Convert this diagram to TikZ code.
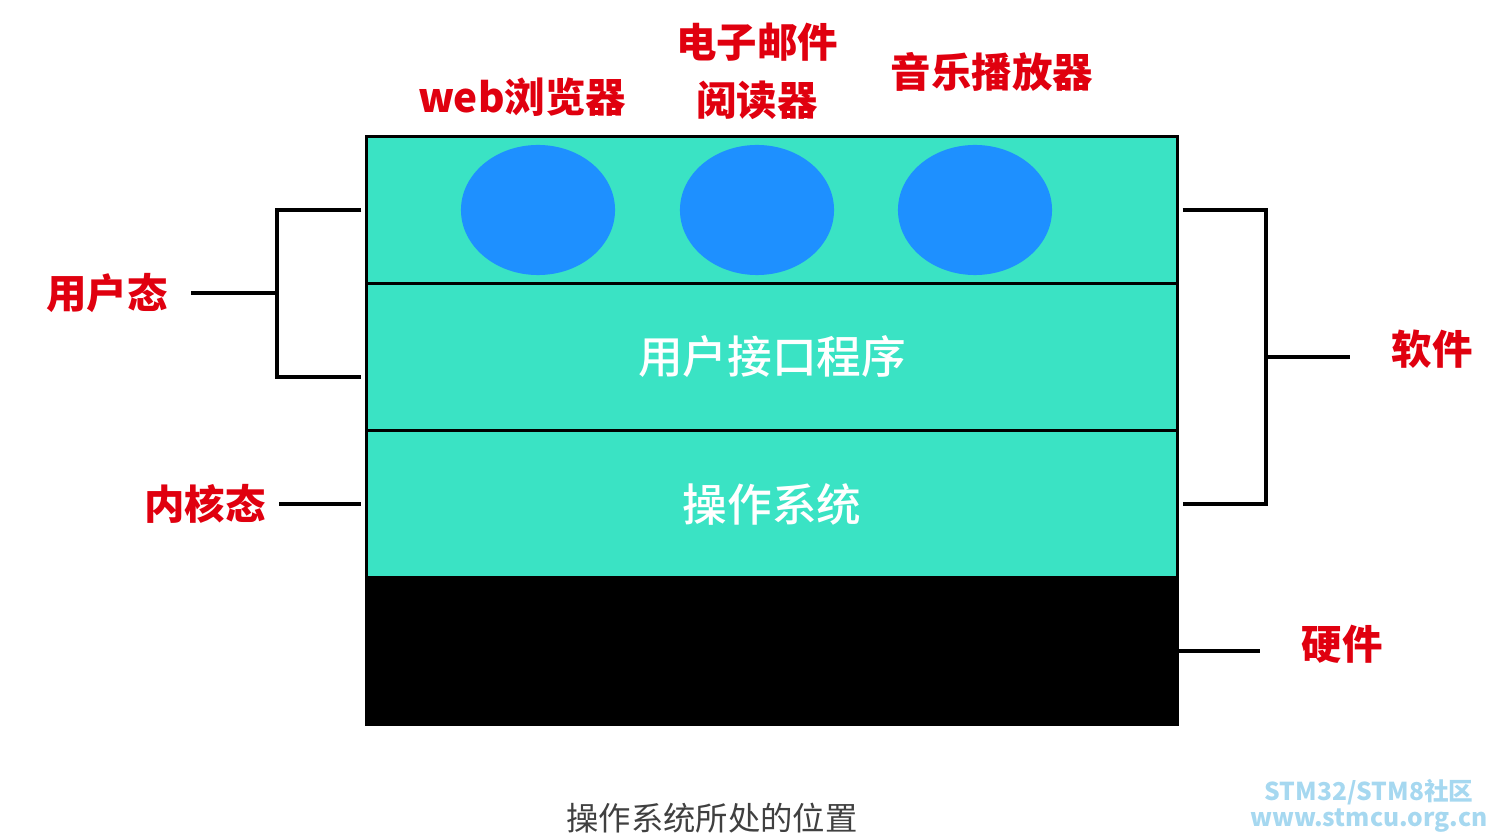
\documentclass[tikz,border=0pt]{standalone}
\usepackage{fontspec}
\newfontfamily\cjk{Noto Sans CJK SC}
\newfontfamily\cjkmed{Noto Sans CJK SC Medium}
\usetikzlibrary{shapes.geometric,calc}

\definecolor{layerteal}{HTML}{3AE3C4}
\definecolor{appblue}{HTML}{1E90FF}
\definecolor{labelred}{HTML}{E0000F}
\definecolor{markblue}{HTML}{A6D8F0}
\definecolor{captiongray}{HTML}{404040}

\tikzset{
  layer/.style={draw=black, line width=0.85pt, fill=layerteal, inner sep=0pt,
    minimum width=8.1cm, minimum height=1.47cm},
  app/.style={ellipse, fill=appblue, inner sep=0pt, minimum width=1.54cm, minimum height=1.3cm},
  redlabel/.style={text=labelred, font=\cjk\bfseries\fontsize{11.5}{16.5}\selectfont, align=center},
  layerlabel/.style={text=white, font=\cjkmed\fontsize{12.7}{15}\selectfont},
  bracket/.style={line width=1.1pt},
}

\begin{document}
\begin{tikzpicture}[x=0.01cm, y=-0.01cm]
    \useasboundingbox (0,0) rectangle (1490,840);

    % the four layers
    \node[layer] (apps) at (772,210) {};
    \node[layer] (ui) at (772,357) {};
    \node[layer] (os) at (772,504) {};
    \node[layer, fill=black] (hw) at (772,651) {};

    \node[layerlabel] at (ui) {用户接口程序};
    \node[layerlabel] at (os) {操作系统};

    % applications
    \node[app] (web) at (538,210) {};
    \node[app] (mail) at (757,210) {};
    \node[app] (music) at (975,210) {};

    \node[redlabel] (weblbl) at (522,97) {web浏览器};
    \node[redlabel] (maillbl) at (757,71) {电子邮件\\阅读器};
    \node[redlabel] (musiclbl) at (992,72) {音乐播放器};

    % left side
    \node[redlabel] (user) at (107,293) {用户态};
    \node[redlabel] (kernel) at (205,504) {内核态};

    \coordinate (ltop) at (277,210);
    \coordinate (lbot) at (277,377);
    \draw[bracket] ([xshift=-0.04cm]apps.west) -- (ltop) -- (lbot) -- ([xshift=-0.04cm]lbot -| apps.west);
    \draw[bracket] ([xshift=0.11cm]user.east) -- (ltop |- user.east);
    \draw[bracket] ([xshift=0.01cm]kernel.east) -- ([xshift=-0.04cm]os.west);

    % right side
    \node[redlabel] (soft) at (1432,349) {软件};
    \node[redlabel] (hard) at (1342,644) {硬件};

    \coordinate (rtop) at (1266,210);
    \coordinate (rbot) at (1266,504);
    \coordinate (rmid) at ($(rtop)!0.5!(rbot)$);
    \draw[bracket] ([xshift=0.04cm]apps.east) -- (rtop) -- (rbot) -- ([xshift=0.04cm]os.east);
    \draw[bracket] (rmid) -- ([xshift=-0.29cm]soft.west |- rmid);
    \draw[bracket] (hw.east) -- ([xshift=-0.29cm]hard.west |- hw.east);

    % caption and mark
    \node[text=captiongray, font=\cjk\fontsize{9.2}{11}\selectfont] (caption) at (712,818) {操作系统所处的位置};
    \node[text=markblue, font=\cjk\bfseries\fontsize{7}{6}\selectfont, align=center] (mark) at (1369,806) {STM32/STM8社区\\www.stmcu.org.cn};
\end{tikzpicture}
\end{document}
